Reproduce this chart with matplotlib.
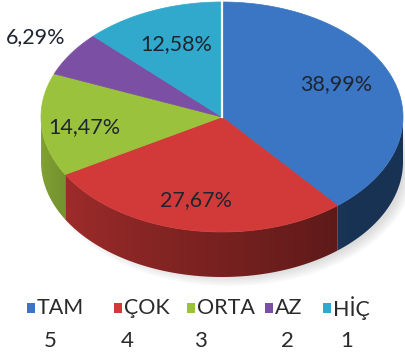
import numpy as np
import matplotlib.pyplot as plt
from matplotlib.patches import Polygon, Rectangle, Ellipse
from matplotlib.colors import to_rgb

labels = ['TAM', 'ÇOK', 'ORTA', 'AZ', 'HİÇ']
codes = ['5', '4', '3', '2', '1']
shares = [38.99, 27.67, 14.47, 6.29, 12.58]
colors = ['#3a76c3', '#d13a38', '#9bc23d', '#7b4fa3', '#30a9cd']

# pie geometry in pixel units
cx, cy = 222, 117
rx, ry = 181, 115
depth = 45

# label anchors (pixels)
label_xy = [(336, 84), (196, 200), (84, 127), (36, 37), (176, 44)]
legend_y = 308
legend_box_x = [27, 114, 187, 265, 323]
legend_code_x = [50, 127, 200, 287, 347]

plt.rcParams['font.family'] = ['Lato', 'DejaVu Sans']

fig = plt.figure(figsize=(4.06, 3.6), dpi=100)
ax = fig.add_axes([0, 0, 1, 1])
ax.set_xlim(0, 406)
ax.set_ylim(360, 0)
ax.axis('off')


def ell(t):
    t = np.radians(t)
    return cx + rx * np.cos(t), cy - ry * np.sin(t)


# slice angles, clockwise from the top
bounds = 90 - 360 * np.concatenate([[0], np.cumsum(shares)]) / sum(shares)

# soft shadow under the pie
for k in range(6):
    ax.add_patch(Ellipse((cx + 8, cy + depth + 6), 2 * rx + 6 - 4 * k, 2 * ry + 6 - 4 * k,
                         color='#888888', alpha=0.05, lw=0, zorder=0))

# shading of the rim: lighter on the left, dark on the right
xcol = np.linspace(cx - rx, cx + rx, 400)
tcol = np.degrees(np.arccos(np.clip((xcol - cx) / rx, -1, 1)))
shade = 0.43 + 0.42 * np.clip((tcol - 45) / 135, 0, 1)
extent = (cx - rx, cx + rx, cy + ry + depth + 2, cy - 2)

# side walls (front half only)
for i, c in enumerate(colors):
    t0, t1 = bounds[i], bounds[i + 1]
    a, b = max(min(t0, 0), -180), max(min(t1, 0), -180)
    if a <= b:
        continue
    ts = np.linspace(a, b, 200)
    xs, ys = ell(ts)
    outline = list(zip(xs, ys)) + list(zip(xs[::-1], ys[::-1] + depth))
    wall = Polygon(outline, closed=True, fc='none', ec='none')
    ax.add_patch(wall)
    img = np.tile((shade[:, None] * np.array(to_rgb(c)))[None, :, :], (10, 1, 1))
    im = ax.imshow(img, extent=extent, aspect='auto', interpolation='bilinear', zorder=1)
    im.set_clip_path(wall)

# top faces
for i, c in enumerate(colors):
    ts = np.linspace(bounds[i], bounds[i + 1], 200)
    xs, ys = ell(ts)
    pts = [(cx, cy)] + list(zip(xs, ys))
    ax.add_patch(Polygon(pts, closed=True, fc=c, ec=c, lw=0.5, zorder=2))

# white seam at the start angle
sx, sy = ell(bounds[0])
ax.plot([cx, sx], [cy, sy], color='white', lw=1.6, zorder=3)

ax.set_xlim(0, 406)
ax.set_ylim(360, 0)

# value labels
for (x, y), s in zip(label_xy, shares):
    txt = f'{s:.2f}%'.replace('.', ',')
    ax.text(x, y, txt, ha='center', va='center', fontsize=15.5, color='#1f2530', zorder=4)

# legend with codes underneath
for i, (lab, code, c) in enumerate(zip(labels, codes, colors)):
    bx = legend_box_x[i]
    ax.add_patch(Rectangle((bx, legend_y - 5), 8, 10, fc=c, ec='none'))
    ax.text(bx + 10, legend_y, lab, ha='left', va='center', fontsize=15.5, color='#2a2a2a')
    ax.text(legend_code_x[i], legend_y + 33, code, ha='center', va='center',
            fontsize=16, color='#2a2a2a')

fig.savefig('out.png', dpi=100)
